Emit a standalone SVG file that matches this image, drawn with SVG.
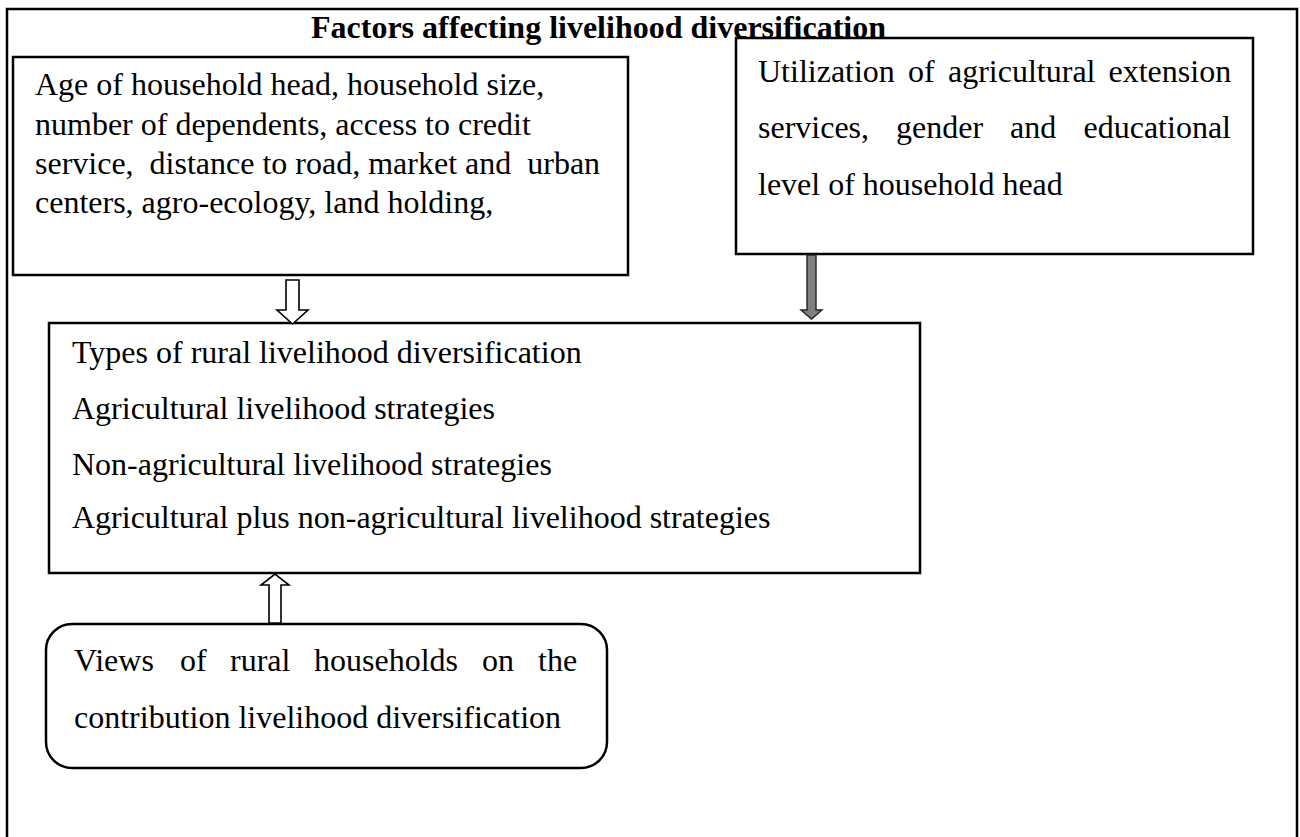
<svg xmlns="http://www.w3.org/2000/svg" width="1300" height="837" viewBox="0 0 1300 837">
<style>
.t{font-family:"Liberation Serif","Times New Roman",serif;font-size:32px;fill:#000}
.b{font-weight:bold}
.box{fill:#fff;stroke:#000;stroke-width:2.5}
.hollow{fill:#fff;stroke:#000;stroke-width:1.6;stroke-linejoin:miter}
.gray{fill:#808080;stroke:#222;stroke-width:1.4}
</style>
<rect width="1300" height="837" fill="#fff"/>
<g id="frame">
<path d="M7 845 V9 H1297 V845" fill="none" stroke="#000" stroke-width="2.5"/>
</g>
<g id="title">
<text class="t b" x="311" y="38">Factors affecting livelihood diversification</text>
</g>
<g id="factors1">
<rect class="box" x="13" y="57" width="615" height="218"/>
<text class="t" x="35" y="95" xml:space="preserve">Age of household head, household size,</text>
<text class="t" x="35" y="135" xml:space="preserve">number of dependents, access to credit</text>
<text class="t" x="35" y="174" xml:space="preserve">service,  distance to road, market and  urban</text>
<text class="t" x="35" y="213" xml:space="preserve">centers, agro-ecology, land holding,</text>
</g>
<g id="factors2">
<rect class="box" x="736" y="38" width="517" height="216"/>
<text class="t" y="82"><tspan x="758">Utilization</tspan><tspan x="908">of</tspan><tspan x="948">agricultural</tspan><tspan x="1108.5">extension</tspan></text>
<text class="t" y="138"><tspan x="758">services,</tspan><tspan x="896">gender</tspan><tspan x="1010">and</tspan><tspan x="1083.5">educational</tspan></text>
<text class="t" x="758" y="195">level of household head</text>
</g>
<g id="types">
<rect class="box" x="49" y="323" width="871" height="250"/>
<text class="t" x="72" y="363">Types of rural livelihood diversification</text>
<text class="t" x="72" y="419">Agricultural livelihood strategies</text>
<text class="t" x="72" y="475">Non-agricultural livelihood strategies</text>
<text class="t" x="72" y="528">Agricultural plus non-agricultural livelihood strategies</text>
</g>
<g id="views">
<rect class="box" x="46" y="624" width="561" height="144" rx="26" ry="26"/>
<text class="t" y="671"><tspan x="74">Views</tspan><tspan x="180">of</tspan><tspan x="230">rural</tspan><tspan x="314">households</tspan><tspan x="482">on</tspan><tspan x="538">the</tspan></text>
<text class="t" x="74" y="728">contribution livelihood diversification</text>
</g>
<g id="connectors">
<path class="hollow" d="M286 280 H299 V310 H308 L292.5 324 L277 310 H286 Z"/>
<path class="gray" d="M807 255 H816 V310 H822 L811.5 319 L801 310 H807 Z"/>
<path class="hollow" d="M269 623 V585 H261 L275 574 L289 585 H281 V623 Z"/>
</g>
</svg>
